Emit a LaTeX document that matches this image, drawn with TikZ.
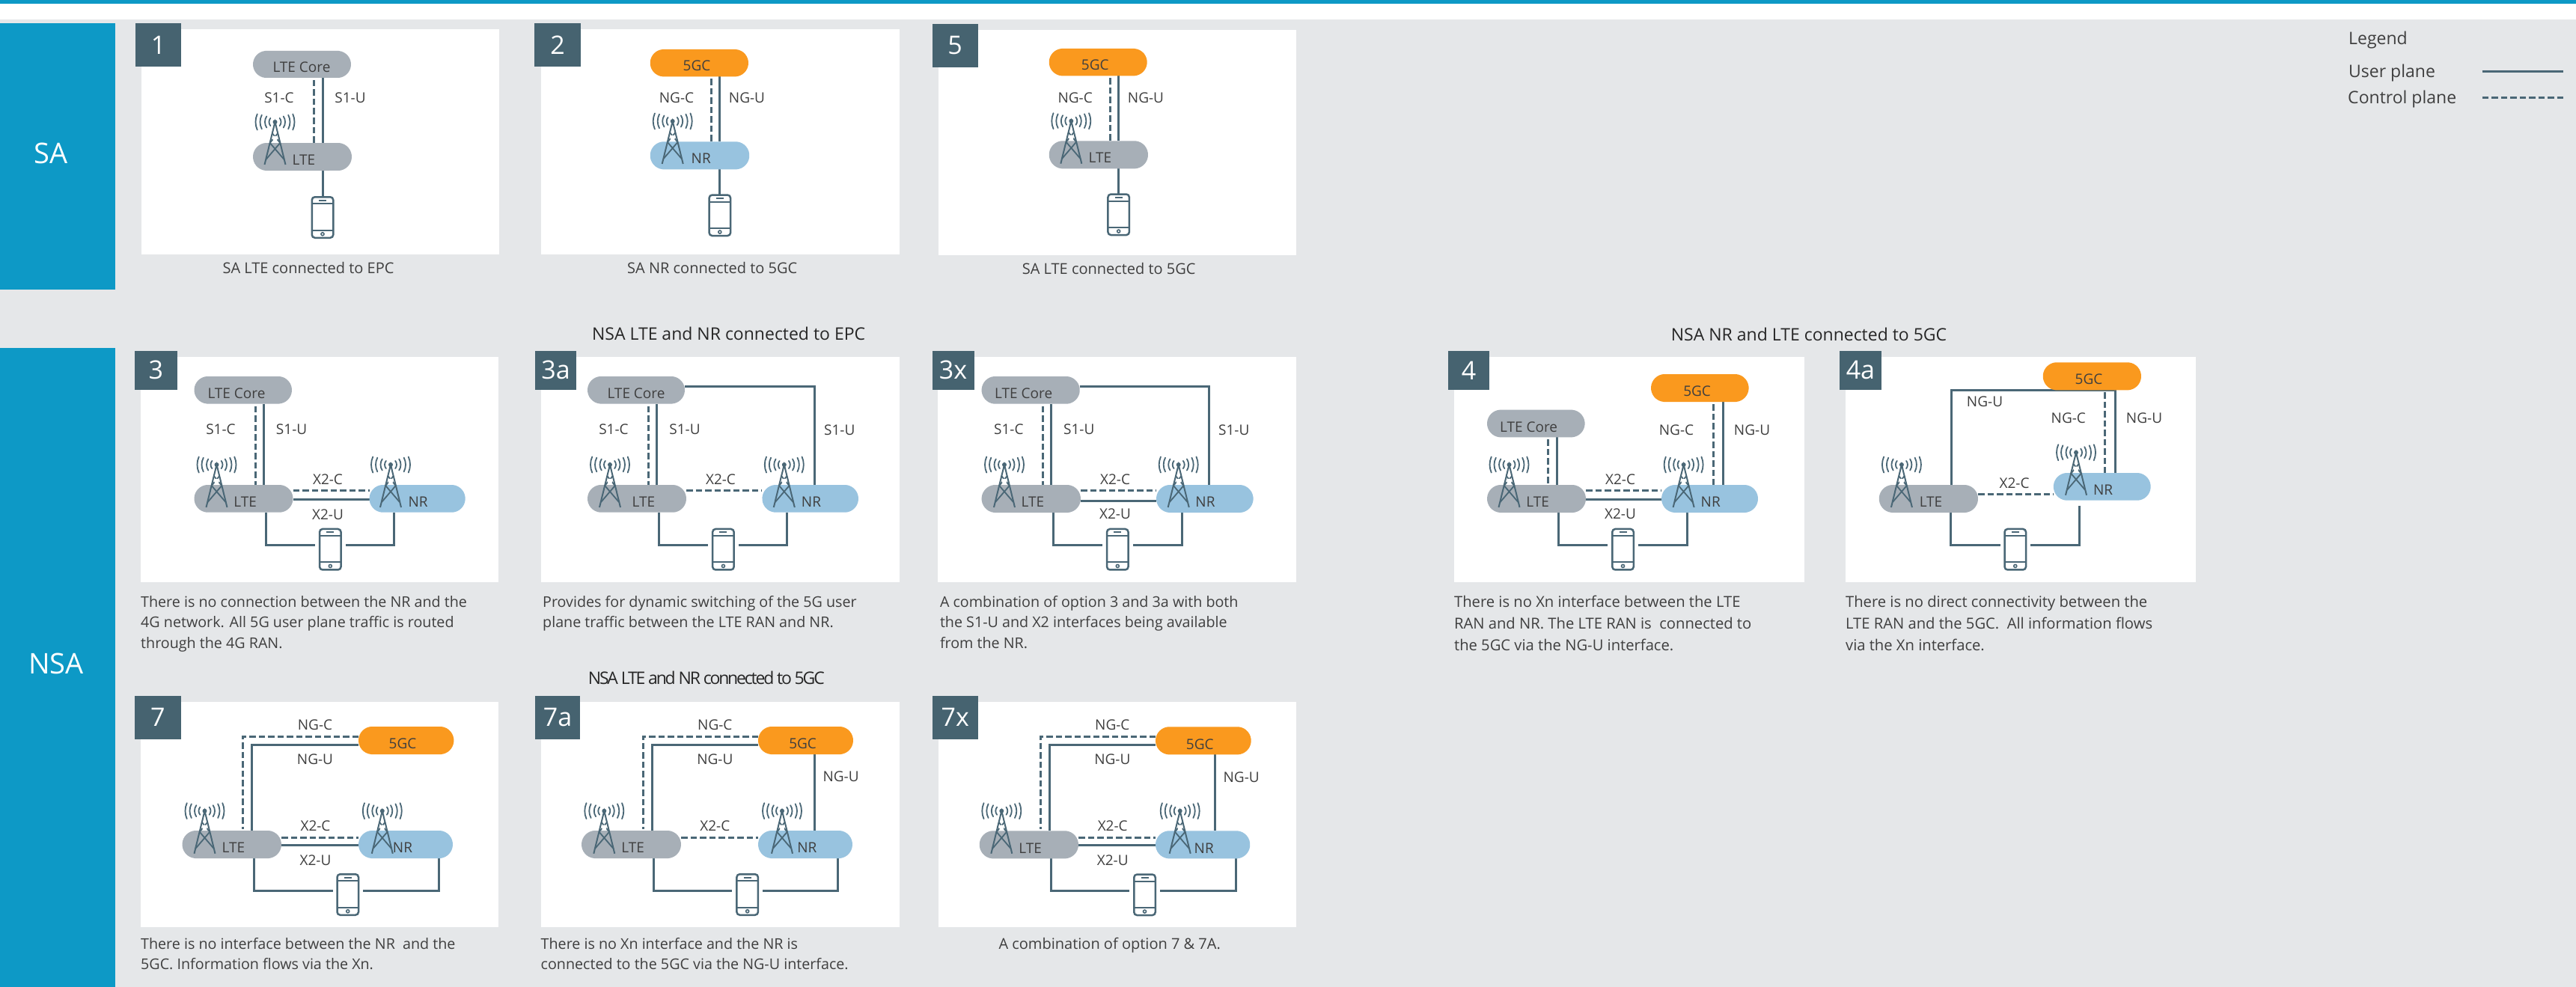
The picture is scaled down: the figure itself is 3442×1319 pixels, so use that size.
\documentclass[tikz,border=0pt]{standalone}
\usepackage{fontspec}
\setmainfont{Open Sans}
\usetikzlibrary{shapes.misc,calc}
\definecolor{teal}{HTML}{0D99C6}
\definecolor{slate}{HTML}{466370}
\definecolor{linec}{HTML}{4A6776}
\definecolor{pagebg}{HTML}{E5E7E9}
\definecolor{greyp}{HTML}{A7AFB7}
\definecolor{bluep}{HTML}{98C3DF}
\definecolor{orangep}{HTML}{FA991E}
\definecolor{txt}{HTML}{3F3F3F}
\pgfdeclarelayer{cards}
\pgfdeclarelayer{under}
\pgfsetlayers{cards,under,main}
\tikzset{
  uplane/.style={draw=linec,line width=3pt,line join=miter},
  cplane/.style={draw=linec,line width=3pt,dash pattern=on 8.5pt off 4pt},
  cardbox/.style={fill=white,draw=none,inner sep=0pt,outer sep=0pt},
  numbox/.style={fill=slate,text=white,draw=none,inner sep=0pt,outer sep=0pt,font=\fontsize{34}{36}\selectfont},
  sidebox/.style={fill=teal,text=white,draw=none,inner sep=0pt,outer sep=0pt,font=\fontsize{38}{42}\selectfont},
  pillbase/.style={rounded rectangle,rounded rectangle arc length=170,draw=none,inner sep=0pt,outer sep=0pt},
  greypill/.style={pillbase,fill=greyp},
  bluepill/.style={pillbase,fill=bluep},
  orangepill/.style={pillbase,fill=orangep},
  pilltext/.style={text=txt,inner sep=0pt,yshift=-1pt,font=\fontsize{19}{22}\selectfont},
  iflabel/.style={text=txt,inner sep=0pt,yshift=-1pt,font=\fontsize{19}{22}\selectfont},
  captext/.style={text=txt,inner sep=0pt,align=left,anchor=north west,yshift=-3pt,font=\fontsize{19.7}{27.5}\selectfont},
  capcenter/.style={text=txt,inner sep=0pt,font=\fontsize{20}{24}\selectfont},
  titletext/.style={text=black!85,inner sep=0pt,font=\fontsize{23}{26}\selectfont},
  legendtext/.style={text=txt,inner sep=0pt,anchor=west,yshift=-2pt,font=\fontsize{23}{26}\selectfont},
  phonebody/.style={draw=linec,line width=2.5pt,rounded corners=4pt,fill=white,inner sep=0pt,outer sep=0pt,minimum width=28.5pt,minimum height=54.5pt},
  phoneline/.style={draw=linec,line width=2pt},
  tower/.pic={
    \draw[linec,line width=2pt] (-14,57) -- (0,0) -- (14,57);
    \draw[linec,line width=1.8pt] (-3.8,15) -- (6.8,28) (3.8,15) -- (-6.8,28) (-6.8,28) -- (12,50) (6.8,28) -- (-12,50);
    \fill[white] (0,22) circle[radius=3.4pt];
    \fill[linec] (0,0) circle[radius=3pt];
    \foreach \rr/\aa in {8/40,13.5/34,20/28,26/24}{
      \draw[linec,line width=1.8pt,line cap=round] ([shift={(-\aa:\rr pt)}]0,0) arc[start angle=-\aa,end angle=\aa,radius=\rr pt];
      \draw[linec,line width=1.8pt,line cap=round] ([shift={(180-\aa:\rr pt)}]0,0) arc[start angle=180-\aa,end angle=180+\aa,radius=\rr pt];
    }
  }
}
% filled box from corners: name, style, x1,y1,x2,y2, text
\newcommand\BoxAt[7]{%
  \pgfmathsetmacro\bw{#5-#3}\pgfmathsetmacro\bh{#6-#4}%
  \node[#2,minimum width=\bw pt,minimum height=\bh pt] (#1) at ({(#3+#5)/2},{(#4+#6)/2}) {#7};}
% card: name, white x1,y1,x2,y2
\newcommand\CardAt[6]{%
  \begin{pgfonlayer}{cards}\BoxAt{#1}{cardbox}{#2}{#3}{#4}{#5}{}\end{pgfonlayer}}
% pill: name, style, x1,y1,x2,y2, text, tx, ty
\newcommand\PillAt[9]{%
  \BoxAt{#1}{#2}{#3}{#4}{#5}{#6}{}%
  \node[pilltext] (#1t) at (#8,#9) {#7};}
% phone: name, x1, y1, x2, y2
\newcommand\PhoneAt[5]{%
  \node[phonebody] (#1) at ({(#2+#4)/2},{(#3+#5)/2}) {};
  \draw[phoneline] ([yshift=-9pt]#1.north west) -- ([yshift=-9pt]#1.north east);
  \draw[phoneline] ([yshift=10pt]#1.south west) -- ([yshift=10pt]#1.south east);
  \draw[phoneline] ([yshift=-4.5pt,xshift=-5pt]#1.north) -- ([yshift=-4.5pt,xshift=5pt]#1.north);
  \draw[linec,line width=1.6pt] ([yshift=5pt]#1.south) circle[radius=2pt];}
% vertical connector between two anchors at x
\newcommand\VL[4]{\draw[#1] (#2 -| #4,0) -- (#3 -| #4,0);}
% horizontal connector between two anchors at y
\newcommand\HL[4]{\draw[#1] (#2 |- 0,#4) -- (#3 |- 0,#4);}
% phone connectors: lte, nr, phone, xl, xr, y
\newcommand\Lower[6]{%
  \coordinate (#3l) at ([xshift=-6pt]#3.west);
  \coordinate (#3r) at ([xshift=6pt]#3.east);
  \draw[uplane] (#1.south -| #4,0) -- (#4,#6) -- (#3l |- 0,#6);
  \draw[uplane] (#2.south -| #5,0) -- (#5,#6) -- (#3r |- 0,#6);}
\begin{document}
\begin{tikzpicture}[x=1pt,y=-1pt]
\useasboundingbox (0,0) rectangle (3442,1319);
\begin{pgfonlayer}{cards}
\fill[white] (0,0) rectangle (3442,1319);
\fill[pagebg] (0,26) rectangle (3442,1319);
\fill[teal] (0,0) rectangle (3442,5);
\end{pgfonlayer}
\BoxAt{sa}{sidebox}{0}{31}{154}{387}{}
\node[inner sep=0pt,text=white,font=\fontsize{38}{42}\selectfont] (satext) at (68,205) {SA};
\BoxAt{nsa}{sidebox}{0}{465}{154}{1319}{}
\node[inner sep=0pt,text=white,font=\fontsize{38}{42}\selectfont] (nsatext) at (75,887) {NSA};

% --- Legend
\node[legendtext] (lg) at (3138,52) {Legend};
\node[legendtext] (lgu) at (3138,96) {User plane};
\node[legendtext] (lgc) at (3137,130.7) {Control plane};
\coordinate (lgua) at (3316.7,95.7); \coordinate (lgub) at (3425,95.7);
\coordinate (lgca) at (3316.7,131); \coordinate (lgcb) at (3425,131);
\draw[uplane] (lgua) -- (lgub);
\draw[cplane] (lgca) -- (lgcb);

% --- Titles
\node[titletext] (t1) at (973.6,446) {NSA LTE and NR connected to EPC};
\node[titletext] (t2) at (2417,446.7) {NSA NR and LTE connected to 5GC};
\node[titletext,font=\fontsize{23}{26}\selectfont\addfontfeature{LetterSpace=-9.5}] (t3) at (943.8,906) {NSA LTE and NR connected to 5GC};

% --- Card 1
\CardAt{c1}{189}{39}{667}{340}{}
\BoxAt{c1n}{numbox}{181}{31}{242}{89}{1}
\PillAt{c1core}{greypill}{338}{68}{469}{104}{LTE Core}{403}{89}
\PillAt{c1lte}{greypill}{338}{191}{470}{228}{LTE}{406}{213}
\PhoneAt{c1ph}{415}{262}{447}{319}
\begin{pgfonlayer}{under}
\draw[cplane] (c1core.south -| 419,0) ++(0,3) -- (c1lte.north -| 419,0);
\VL{uplane}{c1core.south}{c1lte.north}{431}
\VL{uplane}{c1lte.south}{c1ph.north}{431}
\end{pgfonlayer}
\pic at (367.5,163) {tower};
\node[iflabel] (c1a) at (373,130) {S1-C};
\node[iflabel] (c1b) at (468,130) {S1-U};
\node[capcenter] (c1c) at (412,358) {SA LTE connected to EPC};

% --- Card 2
\CardAt{c2}{722.7}{38.7}{1201.7}{339.7}{}
\BoxAt{c2n}{numbox}{714.3}{30.7}{775.7}{88.7}{2}
\PillAt{c2core}{orangepill}{868.7}{66}{1000}{102.3}{5GC}{931}{86.7}
\PillAt{c2nr}{bluepill}{868.7}{189.3}{1001.3}{226.3}{NR}{936.7}{211}
\PhoneAt{c2ph}{946}{259.3}{977.7}{316.3}
\begin{pgfonlayer}{under}
\draw[cplane] (c2core.south -| 950.7,0) ++(0,3) -- (c2nr.north -| 950.7,0);
\VL{uplane}{c2core.south}{c2nr.north}{961.7}
\VL{uplane}{c2nr.south}{c2ph.north}{961.7}
\end{pgfonlayer}
\pic at (898.7,162) {tower};
\node[iflabel] (c2a) at (904,130) {NG-C};
\node[iflabel] (c2b) at (998,130) {NG-U};
\node[capcenter] (c2c) at (951.7,357.7) {SA NR connected to 5GC};

% --- Card 5
\CardAt{c5}{1254}{39.7}{1731.7}{340.7}{}
\BoxAt{c5n}{numbox}{1245.7}{31.7}{1306.7}{89.7}{5}
\PillAt{c5core}{orangepill}{1401.7}{65}{1532.7}{101.3}{5GC}{1463.3}{85.7}
\PillAt{c5lte}{greypill}{1401.7}{188.3}{1534}{225.3}{LTE}{1470}{210}
\PhoneAt{c5ph}{1479}{258.3}{1510.3}{315.3}
\begin{pgfonlayer}{under}
\draw[cplane] (c5core.south -| 1483.3,0) ++(0,3) -- (c5lte.north -| 1483.3,0);
\VL{uplane}{c5core.south}{c5lte.north}{1494.7}
\VL{uplane}{c5lte.south}{c5ph.north}{1494.7}
\end{pgfonlayer}
\pic at (1431.3,161.7) {tower};
\node[iflabel] (c5a) at (1436.7,129.3) {NG-C};
\node[iflabel] (c5b) at (1531,129.3) {NG-U};
\node[capcenter] (c5c) at (1481.7,359) {SA LTE connected to 5GC};

% --- Card 3
\CardAt{c3}{188}{476.7}{666}{777.7}{}
\BoxAt{c3n}{numbox}{180}{469}{236.5}{520.7}{3}
\PillAt{c3core}{greypill}{259.5}{503}{390}{539.5}{LTE Core}{316}{525}
\PillAt{c3lte}{greypill}{259.5}{648}{391.5}{684.7}{LTE}{327.7}{670}
\PillAt{c3nr}{bluepill}{493.5}{648}{621.7}{684.7}{NR}{558.6}{670}
\PhoneAt{c3ph}{426}{705.7}{456.6}{762.7}
\begin{pgfonlayer}{under}
\draw[cplane] (c3core.south -| 341,0) ++(0,3) -- (c3lte.north -| 341,0);
\VL{uplane}{c3core.south}{c3lte.north}{352.6}
\HL{cplane}{c3lte.east}{c3nr.west}{655}
\HL{uplane}{c3lte.east}{c3nr.west}{667}
\Lower{c3lte}{c3nr}{c3ph}{355}{526.7}{728}
\end{pgfonlayer}
\pic at (289.5,621) {tower};
\pic at (522,621) {tower};
\node[iflabel] (c3a) at (295,573) {S1-C};
\node[iflabel] (c3b) at (389.6,573) {S1-U};
\node[iflabel] (c3d) at (438,640) {X2-C};
\node[iflabel] (c3e) at (438,686.7) {X2-U};
\node[captext] (c3c) at (188,793) {There is no connection between the NR and the\\4G network. All 5G user plane traffic is routed\\through the 4G RAN.};

% --- Card 3a
\CardAt{c3a}{722.5}{476.7}{1201.7}{777.7}{}
\BoxAt{c3an}{numbox}{715}{469}{770}{520.7}{3a}
\PillAt{c3acore}{greypill}{785}{503}{915}{539.5}{LTE Core}{850}{525}
\PillAt{c3alte}{greypill}{785}{648}{917}{684.7}{LTE}{860}{670}
\PillAt{c3anr}{bluepill}{1018.4}{648}{1147}{684.7}{NR}{1084}{670}
\PhoneAt{c3aph}{950.8}{705.7}{982}{762.7}
\begin{pgfonlayer}{under}
\draw[cplane] (c3acore.south -| 866.6,0) ++(0,3) -- (c3alte.north -| 866.6,0);
\VL{uplane}{c3acore.south}{c3alte.north}{877.5}
\draw[uplane] (c3acore.east |- 0,516) -- (1088.6,516) -- (c3anr.north -| 1088.6,0);
\HL{cplane}{c3alte.east}{c3anr.west}{655}
\Lower{c3alte}{c3anr}{c3aph}{880.7}{1051.6}{728}
\end{pgfonlayer}
\pic at (815,621) {tower};
\pic at (1047.8,621) {tower};
\node[iflabel] (c3aa) at (820,573) {S1-C};
\node[iflabel] (c3ab) at (915,573) {S1-U};
\node[iflabel] (c3ag) at (1121.7,574) {S1-U};
\node[iflabel] (c3ad) at (963,640) {X2-C};
\node[captext] (c3ac) at (725,793) {Provides for dynamic switching of the 5G user\\plane traffic between the LTE RAN and NR.};

% --- Card 3x
\CardAt{c3x}{1253.4}{476.7}{1731.7}{777.7}{}
\BoxAt{c3xn}{numbox}{1245.5}{469}{1301.6}{520.7}{3x}
\PillAt{c3xcore}{greypill}{1311.6}{503}{1442.8}{539.7}{LTE Core}{1367.7}{525}
\PillAt{c3xlte}{greypill}{1311.6}{648}{1444}{685}{LTE}{1380}{670}
\PillAt{c3xnr}{bluepill}{1545}{648}{1674.6}{685}{NR}{1610.5}{670}
\PhoneAt{c3xph}{1477.6}{705.7}{1509}{762.7}
\begin{pgfonlayer}{under}
\draw[cplane] (c3xcore.south -| 1393.6,0) ++(0,3) -- (c3xlte.north -| 1393.6,0);
\VL{uplane}{c3xcore.south}{c3xlte.north}{1404.6}
\draw[uplane] (c3xcore.east |- 0,516.7) -- (1615.7,516.7) -- (c3xnr.north -| 1615.7,0);
\HL{cplane}{c3xlte.east}{c3xnr.west}{655.7}
\HL{uplane}{c3xlte.east}{c3xnr.west}{669}
\Lower{c3xlte}{c3xnr}{c3xph}{1407}{1579}{728}
\end{pgfonlayer}
\pic at (1342,621) {tower};
\pic at (1574.7,621) {tower};
\node[iflabel] (c3xa) at (1347.8,573) {S1-C};
\node[iflabel] (c3xb) at (1441.8,573) {S1-U};
\node[iflabel] (c3xg) at (1648.7,574) {S1-U};
\node[iflabel] (c3xd) at (1490,640) {X2-C};
\node[iflabel] (c3xe) at (1490,686) {X2-U};
\node[captext] (c3xc) at (1255.8,793) {A combination of option 3 and 3a with both\\the S1-U and X2 interfaces being available\\from the NR.};

% --- Card 4
\CardAt{c4}{1942.9}{476.7}{2411}{777.7}{}
\BoxAt{c4n}{numbox}{1934.8}{469}{1990.4}{520.7}{4}
\PillAt{c4g}{orangepill}{2206}{500}{2336.6}{537}{5GC}{2267.6}{522}
\PillAt{c4core}{greypill}{1987}{547.7}{2117.6}{584.3}{LTE Core}{2042.6}{569.7}
\PillAt{c4lte}{greypill}{1987}{648}{2119}{685}{LTE}{2054.7}{670}
\PillAt{c4nr}{bluepill}{2220}{648}{2349}{685}{NR}{2285.7}{670}
\PhoneAt{c4ph}{2153}{705.7}{2184}{762.7}
\begin{pgfonlayer}{under}
\draw[cplane] (c4core.south -| 2068.8,0) ++(0,3) -- (c4lte.north -| 2068.8,0);
\VL{uplane}{c4core.south}{c4lte.north}{2080}
\draw[cplane] (c4g.south -| 2289,0) ++(0,3) -- (c4nr.north -| 2289,0);
\VL{uplane}{c4g.south}{c4nr.north}{2302.5}
\HL{cplane}{c4lte.east}{c4nr.west}{655.7}
\HL{uplane}{c4lte.east}{c4nr.west}{667}
\Lower{c4lte}{c4nr}{c4ph}{2082}{2254}{728}
\end{pgfonlayer}
\pic at (2016.5,621) {tower};
\pic at (2249.6,621) {tower};
\node[iflabel] (c4a) at (2240,574) {NG-C};
\node[iflabel] (c4b) at (2341,574) {NG-U};
\node[iflabel] (c4d) at (2165,640) {X2-C};
\node[iflabel] (c4e) at (2165,686) {X2-U};
\node[captext,font=\fontsize{20.2}{29}\selectfont] (c4c) at (1942.9,793) {There is no Xn interface between the LTE\\RAN and NR. The LTE RAN is\ \ connected to\\the 5GC via the NG-U interface.};

% --- Card 4a
\CardAt{c4a}{2465.9}{476.7}{2934}{777.7}{}
\BoxAt{c4an}{numbox}{2457.8}{469}{2514}{520.7}{4a}
\PillAt{c4ag}{orangepill}{2729.7}{484.3}{2861}{521.3}{5GC}{2791}{506}
\PillAt{c4alte}{greypill}{2510.7}{648}{2643}{685}{LTE}{2580}{670}
\PillAt{c4anr}{bluepill}{2743.8}{632}{2873.7}{668.7}{NR}{2810}{654}
\PhoneAt{c4aph}{2677.5}{705.7}{2708}{762.7}
\begin{pgfonlayer}{under}
\draw[uplane] (c4alte.north -| 2607,0) -- (2607,521.3) -- (2826.8,521.3) -- (c4anr.north -| 2826.8,0);
\draw[cplane] (c4ag.south -| 2812.7,0) ++(0,3) -- (c4anr.north -| 2812.7,0);
\HL{cplane}{c4alte.east}{c4anr.west}{660.7}
\coordinate (c4aphl) at ([xshift=-6pt]c4aph.west);
\coordinate (c4aphr) at ([xshift=6pt]c4aph.east);
\draw[uplane] (c4alte.south -| 2606.5,0) -- (2606.5,728) -- (c4aphl |- 0,728);
\draw[uplane,shorten <=7pt] (c4anr.south -| 2778,0) -- (2778,728) -- (c4aphr |- 0,728);
\end{pgfonlayer}
\pic at (2540.9,621) {tower};
\pic at (2774,604.7) {tower};
\node[iflabel] (c4ax) at (2652,536) {NG-U};
\node[iflabel] (c4aa) at (2763.8,558) {NG-C};
\node[iflabel] (c4ab) at (2865,558) {NG-U};
\node[iflabel] (c4ad) at (2691.5,645) {X2-C};
\node[captext,font=\fontsize{20.2}{29}\selectfont] (c4ac) at (2465.9,793) {There is no direct connectivity between the\\LTE RAN and the 5GC.\ \ All information flows\\via the Xn interface.};

% --- Card 7
\CardAt{c7}{188}{938}{666}{1239}{}
\BoxAt{c7n}{numbox}{180}{930}{241.6}{987.7}{7}
\PillAt{c7g}{orangepill}{479}{971}{606.4}{1008}{5GC}{538}{993}
\PillAt{c7lte}{greypill}{243.5}{1110}{376}{1147}{LTE}{311.8}{1132}
\PillAt{c7nr}{bluepill}{479}{1110}{605}{1147}{NR}{538}{1132}
\PhoneAt{c7ph}{449.5}{1167}{480}{1224}
\begin{pgfonlayer}{under}
\draw[cplane] (c7g.west |- 0,984) -- (324.5,984) -- (324.5,1108);
\draw[uplane] (c7g.west |- 0,995.7) -- (336.7,995.7) -- (c7lte.north -| 336.7,0);
\HL{cplane}{c7lte.east}{c7nr.west}{1119}
\HL{uplane}{c7lte.east}{c7nr.west}{1129.7}
\Lower{c7lte}{c7nr}{c7ph}{339}{586}{1190}
\end{pgfonlayer}
\pic at (273.5,1083.7) {tower};
\pic at (510.8,1083.7) {tower};
\node[iflabel] (c7a) at (421,968) {NG-C};
\node[iflabel] (c7b) at (421,1014) {NG-U};
\node[iflabel] (c7d) at (421.5,1103) {X2-C};
\node[iflabel] (c7e) at (421.5,1149) {X2-U};
\node[captext] (c7c) at (188,1250) {There is no interface between the NR\ \ and the\\5GC. Information flows via the Xn.};

% --- Card 7a
\CardAt{c7a}{722.5}{938}{1201.7}{1239}{}
\BoxAt{c7an}{numbox}{715}{930}{775}{987.7}{7a}
\PillAt{c7ag}{orangepill}{1013}{971}{1140}{1008}{5GC}{1072.6}{993}
\PillAt{c7alte}{greypill}{777}{1110}{910}{1147}{LTE}{845.6}{1132}
\PillAt{c7anr}{bluepill}{1013}{1110}{1139}{1147}{NR}{1078.4}{1132}
\PhoneAt{c7aph}{983.3}{1167}{1014}{1224}
\begin{pgfonlayer}{under}
\draw[cplane] (c7ag.west |- 0,984) -- (859,984) -- (859,1108);
\draw[uplane] (c7ag.west |- 0,995.7) -- (871,995.7) -- (c7alte.north -| 871,0);
\VL{uplane}{c7ag.south}{c7anr.north}{1088.6}
\HL{cplane}{c7alte.east}{c7anr.west}{1119}
\Lower{c7alte}{c7anr}{c7aph}{873}{1119.8}{1190}
\end{pgfonlayer}
\pic at (807.3,1083.7) {tower};
\pic at (1045,1083.7) {tower};
\node[iflabel] (c7aa) at (955.3,968) {NG-C};
\node[iflabel] (c7ab) at (955.3,1014) {NG-U};
\node[iflabel] (c7ag2) at (1123.6,1037) {NG-U};
\node[iflabel] (c7ad) at (955.3,1103) {X2-C};
\node[captext] (c7ac) at (722.5,1250) {There is no Xn interface and the NR is\\connected to the 5GC via the NG-U interface.};

% --- Card 7x
\CardAt{c7x}{1253.7}{938}{1731.7}{1239}{}
\BoxAt{c7xn}{numbox}{1245.7}{930}{1306.7}{987.7}{7x}
\PillAt{c7xg}{orangepill}{1544}{971.3}{1671.7}{1008.3}{5GC}{1603.3}{993.3}
\PillAt{c7xlte}{greypill}{1308.7}{1110.3}{1441}{1147.3}{LTE}{1376.7}{1132.3}
\PillAt{c7xnr}{bluepill}{1544}{1110.3}{1670.3}{1147.3}{NR}{1608.7}{1132.3}
\PhoneAt{c7xph}{1513.7}{1167.3}{1545.3}{1224.3}
\begin{pgfonlayer}{under}
\draw[cplane] (c7xg.west |- 0,984) -- (1390,984) -- (1390,1108);
\draw[uplane] (c7xg.west |- 0,995.7) -- (1402.3,995.7) -- (c7xlte.north -| 1402.3,0);
\VL{uplane}{c7xg.south}{c7xnr.north}{1623}
\HL{cplane}{c7xlte.east}{c7xnr.west}{1119.3}
\HL{uplane}{c7xlte.east}{c7xnr.west}{1129.7}
\Lower{c7xlte}{c7xnr}{c7xph}{1404}{1651.3}{1190.3}
\end{pgfonlayer}
\pic at (1338.3,1083.7) {tower};
\pic at (1576.7,1083.7) {tower};
\node[iflabel] (c7xa) at (1486.3,968) {NG-C};
\node[iflabel] (c7xb) at (1486.3,1014) {NG-U};
\node[iflabel] (c7xg2) at (1658.7,1037.3) {NG-U};
\node[iflabel] (c7xd) at (1486.7,1103) {X2-C};
\node[iflabel] (c7xe) at (1486.7,1149) {X2-U};
\node[capcenter] (c7xc) at (1482.7,1263) {A combination of option 7 \& 7A.};
\end{tikzpicture}
\end{document}
